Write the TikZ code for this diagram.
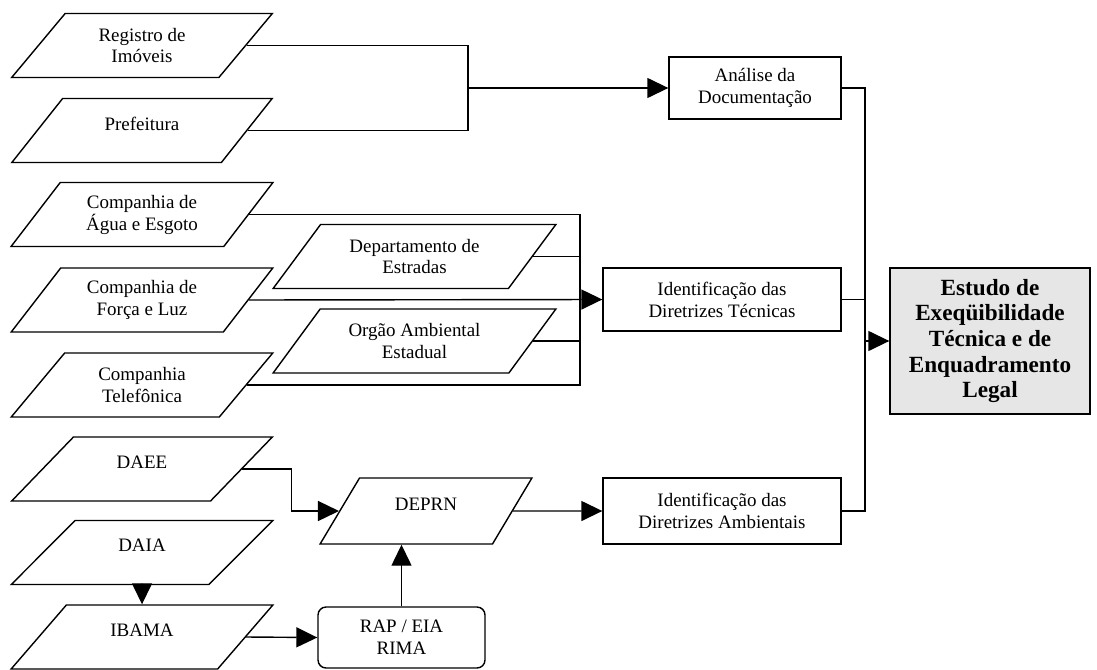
\documentclass[tikz,border=0pt]{standalone}
\usepackage{fontspec}
\setmainfont{Liberation Serif}
\definecolor{estgray}{HTML}{E6E6E6}
\usetikzlibrary{shapes.geometric,arrows.meta}

\begin{document}
\begin{tikzpicture}[x=0.02cm, y=-0.02cm, line width=0.8pt,
  >={Triangle[length=0.42cm,width=0.4cm]},
  src/.style={trapezium, trapezium left angle=51, trapezium right angle=129, trapezium stretches=true, draw, fill=white, minimum width=5.24cm, minimum height=1.28cm, inner sep=1pt, align=center, font=\fontsize{10.8}{12.5}\selectfont},
  org/.style={src, trapezium left angle=49, trapezium right angle=131, minimum width=5.66cm},
  lift/.style={text depth=8pt},
  proc/.style={rectangle, draw, align=center, font=\fontsize{10.8}{12.5}\selectfont},
  res/.style={rectangle, draw, fill=estgray, align=center, minimum width=4cm, minimum height=2.92cm, font=\bfseries\fontsize{13.2}{14.6}\selectfont},
  rep/.style={proc, rounded corners=0.16cm, minimum width=3.34cm, minimum height=1.22cm}]
\useasboundingbox (0,0) rectangle (1097,669);
\node[src] (reg) at (142,45.5) {Registro de\\Imóveis};
\node[src,lift] (pref) at (142,130.5) {Prefeitura};
\node[src] (agua) at (142,214.5) {Companhia de\\Água e Esgoto};
\node[src] (forca) at (142,300) {Companhia de\\Força e Luz};
\node[src] (tel) at (142,385) {Companhia\\Telefônica};
\node[src,lift] (daee) at (142,469) {DAEE};
\node[src,lift] (daia) at (142,552.5) {DAIA};
\node[src,lift] (ibama) at (142,637) {IBAMA};
\node[org] (dep) at (414.5,256.5) {Departamento de\\Estradas};
\node[org] (orgao) at (414.5,341) {Orgão Ambiental\\Estadual};
\node[src,lift, trapezium left angle=57, trapezium right angle=123, minimum width=4.26cm, minimum height=1.32cm] (deprn) at (426,511) {DEPRN};
\node[rep] (rap) at (401.5,637.5) {RAP / EIA\\RIMA};
\node[proc, minimum width=3.44cm, minimum height=1.24cm] (doc) at (755,88) {Análise da\\Documentação};
\node[proc, minimum width=4.76cm, minimum height=1.26cm] (tec) at (722,299.5) {Identificação das\\Diretrizes Técnicas};
\node[proc, minimum width=4.76cm, minimum height=1.32cm] (amb) at (722,511) {Identificação das\\Diretrizes Ambientais};
\node[res] (est) at (990,341) {Estudo de\\Exeqüibilidade\\Técnica e de\\Enquadramento\\Legal};
\coordinate (jdoc) at (468,88);
\coordinate (jtec) at (580,299.5);
\coordinate (jest) at (865,341);
\draw (reg.east) -| (jdoc) |- (pref.east);
\draw[->] (jdoc) -- (doc.west);
\draw (agua.east) -| (jtec) |- (tel.east);
\foreach \n in {dep,orgao} \draw (\n.east) -- (\n.east -| jtec);
\draw[->] (forca.east) -- (tec.west);
\draw[->] (daee.east) -- ++(49,0) |- (deprn.west);
\draw[->] (daia) -- (ibama);
\draw[->] (ibama.east) -- (rap.west);
\draw[->] (rap.north) -- (rap.north |- deprn.south);
\draw[->] (deprn.east) -- (amb.west);
\draw (doc.east) -| (jest) |- (amb.east);
\draw (tec.east) -- (tec.east -| jest);
\draw[->] (jest) -- (est.west);
\end{tikzpicture}
\end{document}
